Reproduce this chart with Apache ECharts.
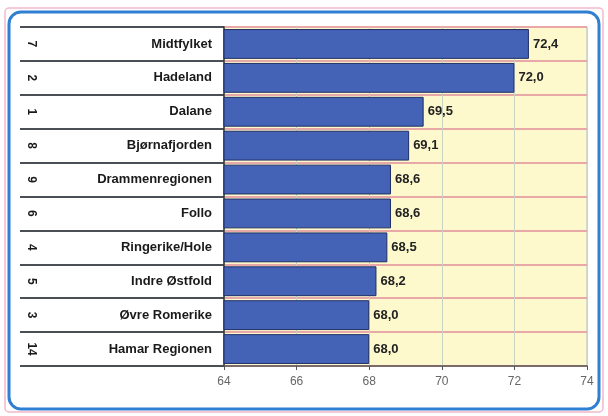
<!DOCTYPE html>
<html>
<head>
<meta charset="utf-8">
<script src="https://cdn.jsdelivr.net/npm/echarts@6/dist/echarts.min.js"></script>
<style>
  html, body { margin: 0; padding: 0; background: #fff; }
  #chart { width: 608px; height: 416px; }
</style>
</head>
<body>
<div id="chart"></div>
<script>
var regions = ['Midtfylket', 'Hadeland', 'Dalane', 'Bjørnafjorden', 'Drammenregionen',
  'Follo', 'Ringerike/Hole', 'Indre Østfold', 'Øvre Romerike', 'Hamar Regionen'];
var ranks = ['7', '2', '1', '8', '9', '6', '4', '5', '3', '14'];
var values = [72.4, 72.0, 69.5, 69.1, 68.6, 68.6, 68.5, 68.2, 68.0, 68.0];

var chart = echarts.init(document.getElementById('chart'));

var option = {
  backgroundColor: '#fff',
  animation: false,
  textStyle: { fontFamily: 'Liberation Sans, Arial, sans-serif' },
  graphic: [{
    type: 'rect',
    shape: { x: 5, y: 8, width: 598, height: 404, r: 4 },
    style: { fill: 'none', stroke: '#f2b8cc', lineWidth: 1.5 }
  }, {
    type: 'rect',
    shape: { x: 9, y: 12, width: 590, height: 397, r: 12 },
    style: { fill: 'none', stroke: '#2f7fd2', lineWidth: 3 }
  }],
  grid: [{
    left: 224, right: 21, top: 27, bottom: 50,
    show: true, backgroundColor: '#fdf9cc', borderColor: '#a9c0c8', borderWidth: 1
  }, {
    left: 20, width: 204, top: 27, bottom: 50
  }],
  xAxis: [{
    gridIndex: 0,
    type: 'value', min: 64, max: 74, interval: 2,
    axisLine: { show: true, lineStyle: { color: '#555', width: 1.5 } },
    axisTick: { show: true, length: 4, lineStyle: { color: '#555' } },
    axisLabel: { color: '#666', fontSize: 12, margin: 10 },
    splitLine: { show: true, lineStyle: { color: '#c9d3c4', width: 1 } }
  }, {
    gridIndex: 1, type: 'value', show: false, min: 0, max: 1
  }],
  yAxis: [{
    gridIndex: 0,
    type: 'category', data: regions, inverse: true,
    axisLine: { show: true, lineStyle: { color: '#333', width: 1.5 } },
    axisTick: { show: false },
    axisLabel: { color: '#1a1a1a', fontSize: 13, fontWeight: 'bold', margin: 12 },
    splitLine: { show: true, lineStyle: { color: '#e8a8a8', width: 2 } }
  }, {
    gridIndex: 1,
    type: 'category', data: ranks, inverse: true,
    axisLine: { show: false },
    axisTick: { show: false },
    axisLabel: { inside: true, rotate: -90, margin: 5, color: '#1a1a1a', fontSize: 12, fontWeight: 'bold' },
    splitLine: { show: true, lineStyle: { color: '#4a4f55', width: 2 } }
  }],
  series: [{
    type: 'bar',
    xAxisIndex: 0, yAxisIndex: 0,
    data: values,
    barCategoryGap: '12%',
    itemStyle: { color: '#4462b6', borderColor: '#1f2f66', borderWidth: 1 },
    label: {
      show: true, position: 'right', distance: 4,
      color: '#222', fontSize: 13, fontWeight: 'bold',
      formatter: function (p) { return p.value.toFixed(1).replace('.', ','); }
    }
  }]
};

chart.setOption(option);
</script>
</body>
</html>
